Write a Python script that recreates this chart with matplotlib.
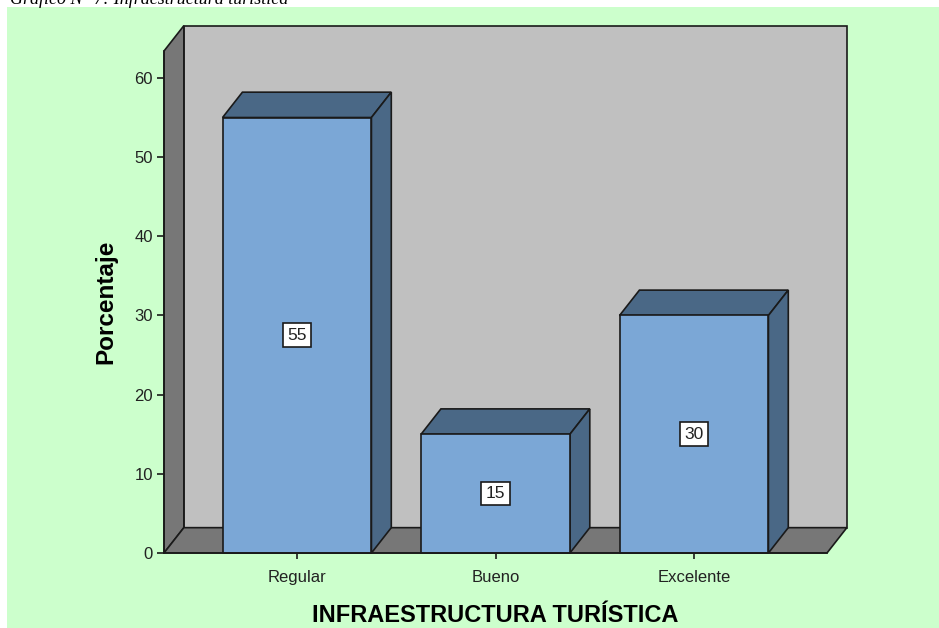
import matplotlib
matplotlib.use("Agg")
import matplotlib.pyplot as plt
from matplotlib.patches import Polygon, Rectangle

categories = ["Regular", "Bueno", "Excelente"]
values = [55, 15, 30]
yticks = [0, 10, 20, 30, 40, 50, 60]

title = "Gráfico N° 7: Infraestructura turística"
xlabel = "INFRAESTRUCTURA TURÍSTICA"
ylabel = "Porcentaje"

# colours
bg = "#ccffcc"
wall = "#c0c0c0"
side = "#777777"
bar_front = "#7ba7d6"
bar_dark = "#4a6886"
edge = "#1a1a1a"

# 3d depth in data units
dx = 0.1
dy = 3.2
half = 0.375
x0, x1 = -0.67, 2.67
ytop = 63.4

plt.rcParams["font.family"] = ["Liberation Sans", "DejaVu Sans"]

fig = plt.figure(figsize=(9.39, 6.28), dpi=100)
fig.patch.set_facecolor("white")
fig.patches.append(Rectangle((7 / 939, 0), 1, 1 - 7 / 628, transform=fig.transFigure,
                             facecolor=bg, edgecolor="none", zorder=-10))
fig.text(10 / 939, 1 - 4 / 628, title, family="Liberation Serif", style="italic",
         fontsize=13, va="baseline", ha="left")

ax = fig.add_axes([164 / 939, 75 / 628, 663 / 939, 502 / 628])
ax.set_facecolor("none")
ax.set_xlim(x0, x1)
ax.set_ylim(0, ytop)

# back wall, side wall, floor
ax.add_patch(Polygon([(x0 + dx, dy), (x1 + dx, dy), (x1 + dx, ytop + dy), (x0 + dx, ytop + dy)],
                     facecolor=wall, edgecolor=edge, lw=1.2, clip_on=False, zorder=1))
ax.add_patch(Polygon([(x0, 0), (x0 + dx, dy), (x0 + dx, ytop + dy), (x0, ytop)],
                     facecolor=side, edgecolor=edge, lw=1.2, clip_on=False, zorder=2))
ax.add_patch(Polygon([(x0, 0), (x1, 0), (x1 + dx, dy), (x0 + dx, dy)],
                     facecolor=side, edgecolor=edge, lw=1.2, clip_on=False, zorder=2))

for i, v in enumerate(values):
    l, r = i - half, i + half
    ax.add_patch(Polygon([(l, v), (r, v), (r + dx, v + dy), (l + dx, v + dy)],
                         facecolor=bar_dark, edgecolor=edge, lw=1.2, clip_on=False, zorder=3))
    ax.add_patch(Polygon([(r, 0), (r + dx, dy), (r + dx, v + dy), (r, v)],
                         facecolor=bar_dark, edgecolor=edge, lw=1.2, clip_on=False, zorder=3))
    ax.add_patch(Rectangle((l, 0), 2 * half, v, facecolor=bar_front, edgecolor=edge,
                           lw=1.2, clip_on=False, zorder=4))
    ax.text(i, v / 2, str(v), ha="center", va="center", fontsize=12.5, zorder=5,
            color="#222222",
            bbox=dict(boxstyle="square,pad=0.25", facecolor="white", edgecolor=edge, lw=1.2))

for s in ["top", "right"]:
    ax.spines[s].set_visible(False)
for s in ["left", "bottom"]:
    ax.spines[s].set_color(edge)
    ax.spines[s].set_linewidth(1.2)
    ax.spines[s].set_zorder(6)

ax.set_xticks(range(len(categories)))
ax.set_xticklabels(categories)
ax.set_yticks(yticks)
ax.tick_params(axis="both", colors=edge, labelcolor="#222222", labelsize=12, width=1.2)
ax.tick_params(axis="y", length=5, pad=3)
ax.tick_params(axis="x", length=4, pad=8)

ax.set_xlabel(xlabel, fontsize=17, fontweight="bold", labelpad=14)
ax.set_ylabel(ylabel, fontsize=17.5, fontweight="bold", labelpad=12)

fig.savefig("out.png", dpi=100)
plt.close()
